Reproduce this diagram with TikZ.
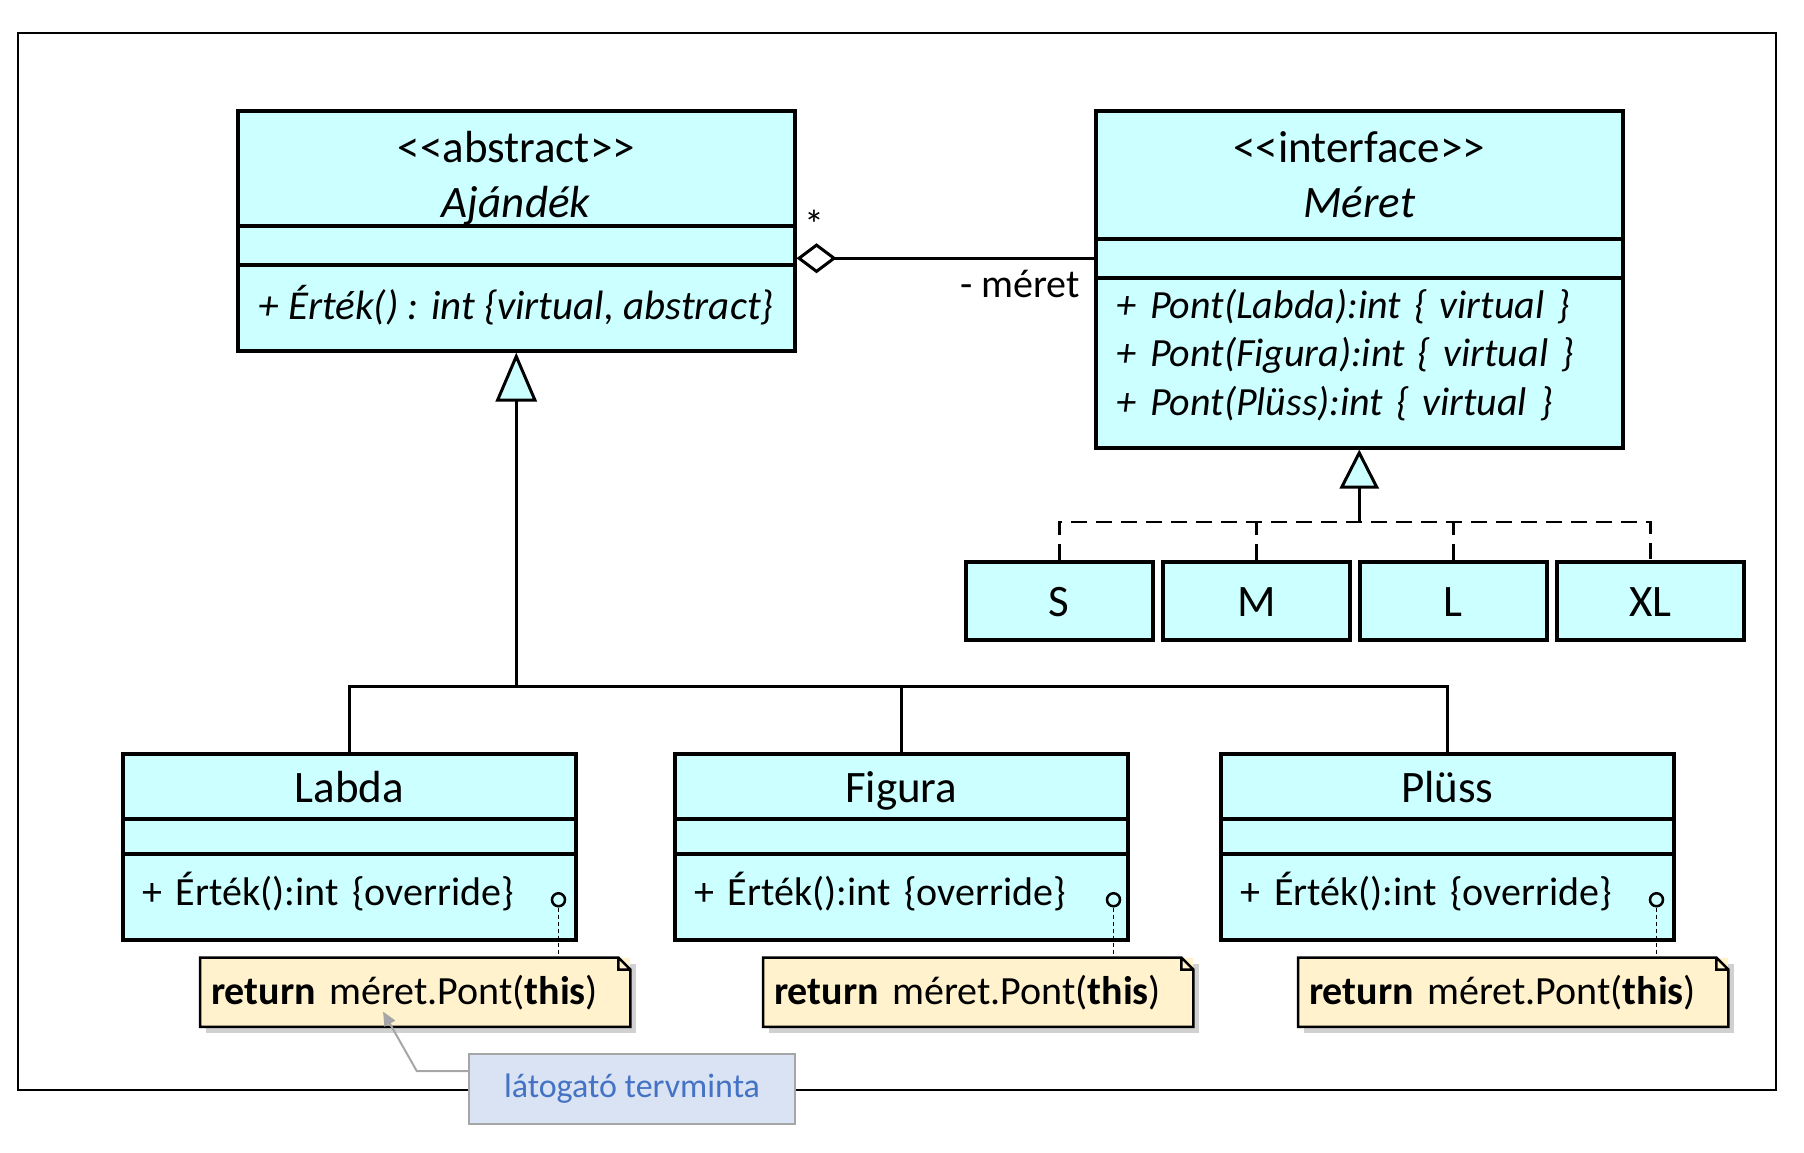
\documentclass[tikz,border=0pt]{standalone}
\usepackage{fontspec}
\setmainfont{Carlito}
\usetikzlibrary{positioning,chains,arrows.meta,shadows}
\definecolor{clsfill}{HTML}{CCFFFF}
\definecolor{notefill}{HTML}{FFF2CC}
\definecolor{hintfill}{HTML}{DAE3F3}
\definecolor{hintline}{HTML}{A6A6A6}
\definecolor{hinttext}{HTML}{4472C4}

\begin{document}
\begin{tikzpicture}[
            x=1pt, y=-1pt,
            every node/.style={ inner sep=0pt },
            cls/.style={ draw, fill=clsfill, line width=3.5pt, font=\fontsize{45}{55}\selectfont },
            title/.style={ text height=32pt, text depth=0pt },
            ops/.style={ font=\fontsize{40}{48.5}\selectfont, align=left },
            note/.style={ fill=notefill, minimum height=69pt, text width=408pt, inner xsep=11pt, align=left, font=\fontsize{40}{48}\selectfont, drop shadow={shadow xshift=6pt, shadow yshift=-6pt, fill=black!60, opacity=0.3} },
            dot/.style={ circle, draw, fill=clsfill, line width=2.5pt, minimum size=13pt },
            link/.style={ line width=3pt },
            gen/.style={ link, -{Triangle[fill=clsfill, length=49pt, width=41pt]} },
            realize/.style={ link, -{Triangle[fill=clsfill, length=39pt, width=39pt]} },
            agg/.style={ link, -{Diamond[fill=white, length=40pt, width=30pt]} },
            dashlink/.style={ line width=2.5pt, dash pattern=on 16pt off 9pt },
            noteline/.style={ line width=1.5pt, dash pattern=on 4pt off 3pt },
            hint/.style={ draw=hintline, fill=hintfill, line width=2.5pt, text=hinttext, minimum width=326pt, minimum height=70pt, font=\fontsize{34}{40}\selectfont },
            start chain=aj going below,
            start chain=me going below,
            start chain=lab going below,
            start chain=fig going below,
            start chain=plu going below,
            node distance=-3.5pt
        ]

        \useasboundingbox (0,0) rectangle (1804,1152);
        \draw[line width=2.5pt] (18,33) rectangle (1776,1090);

        \node[cls, on chain=aj, minimum width=557pt, minimum height=115pt, anchor=north west, align=center, text height=99pt, text depth=0pt] at (236,109) {{<}{<}abstract{>}{>}\\\textit{Ajándék}};
        \node[cls, on chain=aj, minimum width=557pt, minimum height=39pt] {};
        \node[cls, ops, on chain=aj, minimum width=557pt, minimum height=86pt, align=center, font=\fontsize{41}{48}\selectfont, text height=31pt, text depth=8pt] {\textit{+ Érték() : int \{virtual, abstract\}}};

        \node[cls, on chain=me, minimum width=527pt, minimum height=128pt, anchor=north west, align=center] at (1094,109) {{<}{<}interface{>}{>}\\\textit{Méret}};
        \node[cls, on chain=me, minimum width=527pt, minimum height=39pt] {};
        \node[cls, ops, on chain=me, minimum height=170pt, text width=485pt, inner xsep=21pt, text height=31pt, text depth=120pt] {\textit{+ Pont(Labda):int \{ virtual \}}\\\textit{+ Pont(Figura):int \{ virtual \}}\\\textit{+ Pont(Plüss):int \{ virtual \}}};

        \node[cls, title, on chain=lab, minimum width=453pt, minimum height=65pt, anchor=north west] at (121,752) {Labda};
        \node[cls, on chain=lab, minimum width=453pt, minimum height=35pt] {};
        \node[cls, ops, on chain=lab, minimum height=86pt, text width=413pt, inner xsep=20pt, text height=31pt, text depth=14pt] {+ Érték():int \{override\}};

        \node[cls, title, on chain=fig, minimum width=453pt, minimum height=65pt, anchor=north west] at (673,752) {Figura};
        \node[cls, on chain=fig, minimum width=453pt, minimum height=35pt] {};
        \node[cls, ops, on chain=fig, minimum height=86pt, text width=413pt, inner xsep=20pt, text height=31pt, text depth=14pt] {+ Érték():int \{override\}};

        \node[cls, title, on chain=plu, minimum width=453pt, minimum height=65pt, anchor=north west] at (1219,752) {Plüss};
        \node[cls, on chain=plu, minimum width=453pt, minimum height=35pt] {};
        \node[cls, ops, on chain=plu, minimum height=86pt, text width=413pt, inner xsep=20pt, text height=31pt, text depth=14pt] {+ Érték():int \{override\}};

        \begin{scope}[start chain=sz going right, node distance=6.5pt]
            \node[cls, title, on chain=sz, minimum width=187pt, minimum height=78pt, anchor=north west] at (964,560) {S};
            \node[cls, title, on chain=sz, minimum width=187pt, minimum height=78pt] {M};
            \node[cls, title, on chain=sz, minimum width=187pt, minimum height=78pt] {L};
            \node[cls, title, on chain=sz, minimum width=187pt, minimum height=78pt] {XL};
        \end{scope}

        \node[dot] (lab-o) at ([xshift=-19pt,yshift=-3pt]lab-3.east) {};
        \node[dot] (fig-o) at ([xshift=-16pt,yshift=-3pt]fig-3.east) {};
        \node[dot] (plu-o) at ([xshift=-19pt,yshift=-3pt]plu-3.east) {};

        \node[note, anchor=north west] (lab-n) at ([xshift=79pt,yshift=-16pt]lab-3.south west) {\textbf{return} méret.Pont(\textbf{this})};
        \node[note, anchor=north west] (fig-n) at ([xshift=90pt,yshift=-16pt]fig-3.south west) {\textbf{return} méret.Pont(\textbf{this})};
        \node[note, anchor=north west] (plu-n) at ([xshift=79pt,yshift=-16pt]plu-3.south west) {\textbf{return} méret.Pont(\textbf{this})};

        \draw[line width=2.5pt] (lab-n.north west) -- ([xshift=-12pt]lab-n.north east) -- ([yshift=-12pt]lab-n.north east) -- (lab-n.south east) -- (lab-n.south west) -- cycle ([xshift=-12pt]lab-n.north east) -- ([xshift=-12pt,yshift=-12pt]lab-n.north east) -- ([yshift=-12pt]lab-n.north east);
        \draw[line width=2.5pt] (fig-n.north west) -- ([xshift=-12pt]fig-n.north east) -- ([yshift=-12pt]fig-n.north east) -- (fig-n.south east) -- (fig-n.south west) -- cycle ([xshift=-12pt]fig-n.north east) -- ([xshift=-12pt,yshift=-12pt]fig-n.north east) -- ([yshift=-12pt]fig-n.north east);
        \draw[line width=2.5pt] (plu-n.north west) -- ([xshift=-12pt]plu-n.north east) -- ([yshift=-12pt]plu-n.north east) -- (plu-n.south east) -- (plu-n.south west) -- cycle ([xshift=-12pt]plu-n.north east) -- ([xshift=-12pt,yshift=-12pt]plu-n.north east) -- ([yshift=-12pt]plu-n.north east);

        \draw[noteline] (lab-o) -- (lab-o |- lab-n.north);
        \draw[noteline] (fig-o) -- (fig-o |- fig-n.north);
        \draw[noteline] (plu-o) -- (plu-o |- plu-n.north);

        \coordinate (bus) at (aj-3.south |- 0,686);
        \draw[link] (lab-1.north) |- (bus) -| (plu-1.north);
        \draw[link] (fig-1.north) -- (fig-1.north |- bus);
        \draw[gen] (bus) -- (aj-3.south);

        \coordinate (rl) at (me-3.south |- 0,522);
        \draw[dashlink] (sz-1.north) -- (sz-1.north |- rl) -- (sz-4.north |- rl) -- (sz-4.north);
        \draw[dashlink] (sz-2.north) -- (sz-2.north |- rl);
        \draw[dashlink] (sz-3.north) -- (sz-3.north |- rl);
        \draw[realize] (rl) -- (me-3.south);

        \draw[agg] (me-2.west) -- (me-2.west -| aj-2.east);
        \node[font=\fontsize{40}{40}\selectfont] (many) at ([xshift=18pt,yshift=21pt]aj-2.east) {*};
        \node[font=\fontsize{40}{48}\selectfont, left=14pt of me-2.west, yshift=-26pt] (role) {- méret};

        \node[hint] (visitor) at (632,1089) {látogató tervminta};
        \coordinate (visitor-tip) at ([xshift=183pt,yshift=-54pt]lab-n.north west);
        \draw[hintline, line width=2pt, -{Triangle[length=14pt, width=12pt]}] ([yshift=18pt]visitor.west) -- ++(-51,0) -- (visitor-tip);
    \end{tikzpicture}
\end{document}
